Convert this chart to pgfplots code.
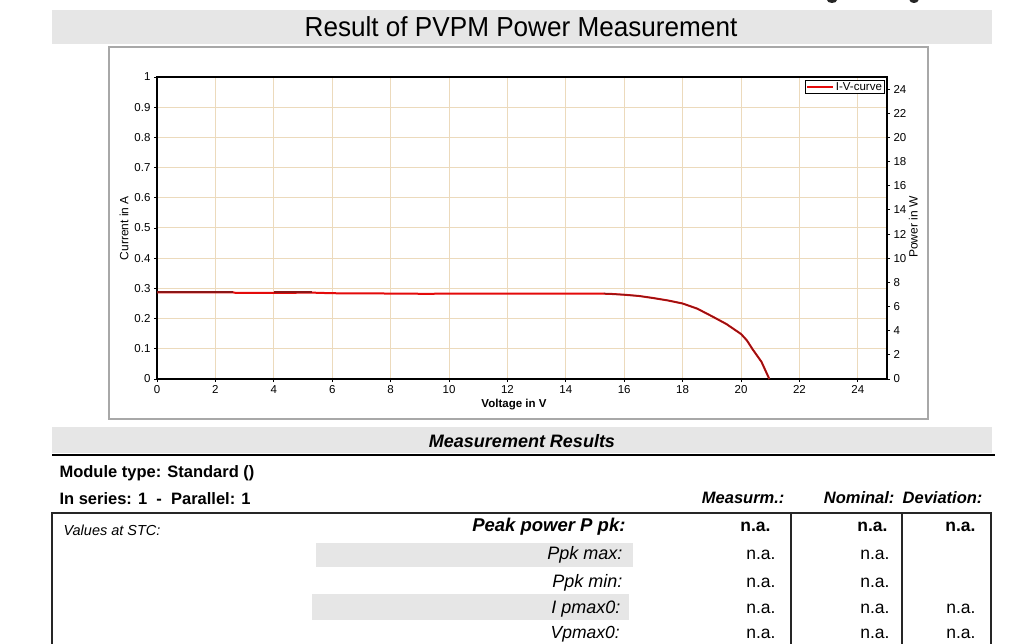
\documentclass[border=0pt]{standalone}
\usepackage{pgfplots}
\pgfplotsset{compat=1.18}
\usepackage{fontspec}
\setmainfont{Liberation Sans}
\definecolor{bandgray}{RGB}{230,230,230}
\definecolor{gridc}{RGB}{236,218,188}
\definecolor{ivred}{RGB}{228,10,10}
\definecolor{ivdark}{RGB}{140,22,22}
\definecolor{framegray}{RGB}{168,168,168}
\newcommand\fs[1]{\fontsize{#1}{#1}\selectfont}
\begin{document}
\begin{tikzpicture}[x=1pt,y=1pt]
\useasboundingbox (0,0) rectangle (1024,643);
\fill[white] (0,0) rectangle (1024,643);
% remains of a heading cut off at the top edge
\begin{scope}
\clip (0,630) rectangle (1024,643);
\fill[black!85] (832,643) ellipse (5 and 3);
\fill[black!85] (914,643) ellipse (4.5 and 3);
\end{scope}
% title band
\fill[bandgray] (52,599) rectangle (992,633);
\node[font=\fs{27.5}] at (521,616) {\scalebox{0.95}[1]{Result of PVPM Power Measurement}};
% chart frame
\draw[framegray, line width=1.5pt] (109,224) rectangle (928,596);
\begin{axis}[
  at={(157pt,264pt)}, anchor=south west,
  width=730pt, height=302pt, scale only axis,
  xmin=0, xmax=25, ymin=0, ymax=1,
  xtick={0,2,...,24},
  ytick={0,0.1,0.2,0.3,0.4,0.5,0.6,0.7,0.8,0.9,1},
  grid=major, major grid style={gridc, line width=1pt},
  axis line style={black, line width=1.3pt},
  tick style={black, line width=0.8pt},
  tick align=outside, major tick length=3pt,
  xtick pos=left, ytick pos=left,
  ticklabel style={font=\fs{11.5}},
  /pgf/number format/assume math mode=true,
  xlabel={Voltage in V}, ylabel={Current in A},
  every axis x label/.style={at={(axis description cs:0.489,-0.085)}, anchor=center, font=\fs{11.5}\bfseries},
  every axis y label/.style={at={(axis description cs:-0.045,0.5)}, rotate=90, anchor=center, font=\fs{12}},
  legend style={at={(axis description cs:0.997,0.99)}, anchor=north east, draw=black, line width=0.8pt, font=\fs{11.5}, inner xsep=1pt, inner ysep=0.5pt, nodes={inner sep=1.5pt}},
  legend image code/.code={\draw[ivred, line width=2.2pt] (0pt,0pt) -- (26pt,0pt);},
]
\addplot[ivred, line width=2pt] coordinates {
(0,0.287) (2.6,0.287) (2.7,0.285) (4,0.285) (5.3,0.286) (6,0.284) (8,0.283) (9.3,0.282) (10,0.283) (12,0.283) (14,0.283) (15,0.283) (15.5,0.282) (16,0.279) (16.5,0.275) (17,0.268) (17.5,0.260) (18,0.250) (18.5,0.233) (19,0.208) (19.5,0.182) (20,0.149) (20.2,0.128) (20.4,0.098) (20.7,0.057) (20.97,0.0)
};
\addlegendentry{I-V-curve}
\addplot[ivdark, line width=1.6pt, forget plot] coordinates {(0,0.289) (2.6,0.289)};
\addplot[ivdark, line width=1.6pt, forget plot] coordinates {(4,0.289) (5.3,0.289)};
\addplot[ivdark, line width=1.2pt, forget plot] coordinates {
(15.3,0.283) (16,0.279) (16.5,0.275) (17,0.268) (17.5,0.260) (18,0.250) (18.5,0.233) (19,0.208) (19.5,0.182) (20,0.149) (20.2,0.128) (20.4,0.098) (20.7,0.057) (20.97,0.0)
};
\end{axis}
\begin{axis}[
  at={(157pt,264pt)}, anchor=south west,
  width=730pt, height=302pt, scale only axis,
  xmin=0, xmax=25, ymin=0, ymax=25,
  axis x line=none, axis y line*=right,
  ytick={0,2,...,24},
  axis line style={black, line width=1.3pt},
  tick style={black, line width=0.8pt},
  tick align=outside, major tick length=3pt,
  ticklabel style={font=\fs{11.5}},
  /pgf/number format/assume math mode=true,
  ylabel={Power in W},
  every axis y label/.style={at={(axis description cs:1.036,0.503)}, rotate=90, anchor=center, font=\fs{12}},
]
\addplot[draw=none] coordinates {(0,0)};
\end{axis}
% Measurement results band
\fill[bandgray] (52,190) rectangle (992,216);
\node[font=\fs{18}\bfseries\itshape] at (522,202) {Measurement Results};
\draw[black, line width=2.2pt] (52,188) -- (995,188);
\node[anchor=west, font=\fs{16.5}\bfseries] at (56,170) {Module type: Standard ()};
\node[anchor=west, font=\fs{16.5}\bfseries] at (56,144) {In series: 1\ \ -\ \ Parallel: 1};
\node[anchor=east, font=\fs{16.5}\bfseries\itshape] at (788,145) {Measurm.:};
\node[anchor=east, font=\fs{16.5}\bfseries\itshape] at (898,145) {Nominal:};
\node[anchor=east, font=\fs{16.5}\bfseries\itshape] at (986,145) {Deviation:};
% table
\fill[bandgray] (316,76) rectangle (633,100);
\fill[bandgray] (312,23) rectangle (629,49);
\draw[black!85, line width=1.5pt] (52,-5) -- (52,130) -- (991,130) -- (991,-5);
\draw[black!85, line width=1.5pt] (791,130) -- (791,-5);
\draw[black!85, line width=1.5pt] (902,130) -- (902,-5);
\node[anchor=west, font=\fs{14.5}\itshape] at (60,113) {Values at STC:};
\node[anchor=east, font=\fs{18.5}\bfseries\itshape] at (629,116) {Peak power P pk:};
\node[anchor=east, font=\fs{18}\itshape] at (626,88) {Ppk max:};
\node[anchor=east, font=\fs{18}\itshape] at (626,60) {Ppk min:};
\node[anchor=east, font=\fs{18}\itshape] at (624,34) {I pmax0:};
\node[anchor=base east, font=\fs{17.5}\itshape, inner sep=0pt] at (620,4.5) {Vpmax0:};
\foreach \x in {774,891,979} \node[anchor=east, font=\fs{17.5}\bfseries] at (\x,116) {n.a.};
\foreach \x in {779,893} {
  \node[anchor=east, font=\fs{17.5}] at (\x,88) {n.a.};
  \node[anchor=east, font=\fs{17.5}] at (\x,60) {n.a.};
}
\foreach \x in {779,893,979} {
  \node[anchor=east, font=\fs{17.5}] at (\x,34) {n.a.};
  \node[anchor=base east, font=\fs{17.5}, inner sep=0pt] at (\x-3.3,4.5) {n.a.};
}
\end{tikzpicture}
\end{document}
